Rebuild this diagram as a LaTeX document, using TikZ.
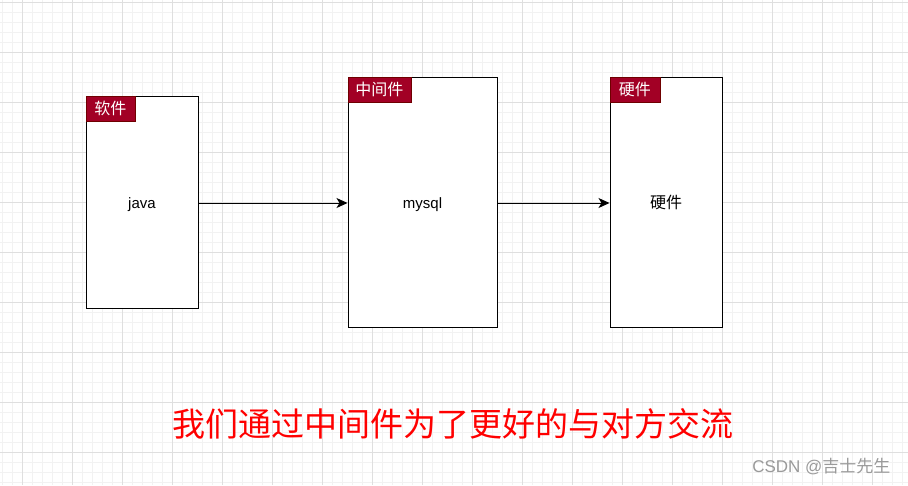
\documentclass[tikz,border=0pt]{standalone}
\usepackage{fontspec}
\usepackage{tikz}
\usetikzlibrary{arrows.meta,positioning}
\setmainfont{Liberation Sans}
\newfontfamily\cjk{Noto Sans CJK SC}
\definecolor{tabred}{HTML}{a20025}
\definecolor{tabedge}{HTML}{6f0000}
\definecolor{gridminor}{HTML}{f2f2f2}
\definecolor{gridmajor}{HTML}{dfdfdf}
\definecolor{wmgray}{HTML}{9a9a9a}

\begin{document}
\begin{tikzpicture}[x=1pt,y=-1pt,
  box/.style={draw=black,fill=white,line width=1pt,inner sep=0pt,font=\fontsize{15}{18}\selectfont},
  tab/.style={draw=tabedge,fill=tabred,text=white,line width=0.6pt,inner sep=0pt,
    anchor=north west,minimum height=25pt,font=\cjk\fontsize{16}{18}\selectfont},
  flow/.style={line width=1pt,-{Stealth[length=11pt,width=10pt,inset=3pt]}}]
  \useasboundingbox (0,0) rectangle (908,485);
  \fill[white] (0,0) rectangle (908,485);
  % grid
  \foreach \gx in {2.5,12.5,...,908} \draw[gridminor,line width=1pt] (\gx,0) -- (\gx,485);
  \foreach \gy in {2.5,12.5,...,485} \draw[gridminor,line width=1pt] (0,\gy) -- (908,\gy);
  \foreach \gx in {22.5,72.5,...,908} \draw[gridmajor,line width=1pt] (\gx,0) -- (\gx,485);
  \foreach \gy in {2.5,52.5,...,485} \draw[gridmajor,line width=1pt] (0,\gy) -- (908,\gy);

  \node[box,minimum width=112pt,minimum height=212pt] (java) at (142,202) {\raisebox{-6pt}[0pt][0pt]{java}};
  \node[box,minimum width=149pt,minimum height=250pt] (mysql) at (422.5,202) {\raisebox{-6pt}[0pt][0pt]{mysql}};
  \node[box,minimum width=112pt,minimum height=250pt] (hw) at (666,202) {\cjk\fontsize{16}{18}\selectfont 硬件};

  \node[tab,minimum width=49pt] (javatab) at (java.north west) {软件};
  \node[tab,minimum width=63pt] (mysqltab) at (mysql.north west) {中间件};
  \node[tab,minimum width=50pt] (hwtab) at (hw.north west) {硬件};

  \draw[flow] (java.east |- 0,203) -- (mysql.west |- 0,203);
  \draw[flow] (mysql.east |- 0,203) -- (hw.west |- 0,203);

  \node[text=red,font=\cjk\fontsize{33}{38}\selectfont] (msg) at (453,424) {我们通过中间件为了更好的与对方交流};
  \node[text=wmgray,anchor=east,font=\fontsize{17}{20}\selectfont] (mark) at (894,467) {CSDN @{\cjk 吉士先生}};
\end{tikzpicture}
\end{document}
